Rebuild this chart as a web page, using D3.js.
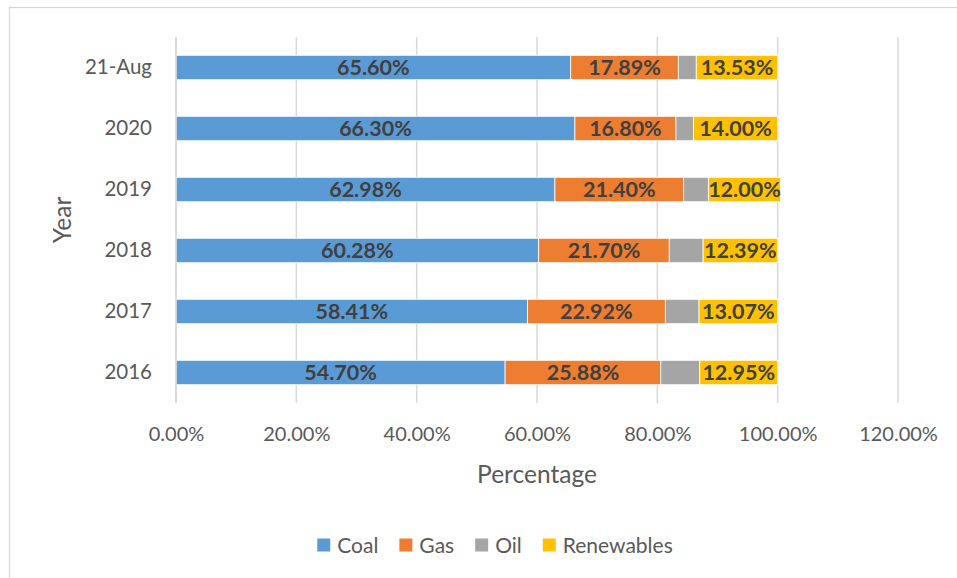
<!DOCTYPE html>
<html>
<head>
<meta charset="utf-8">
<script src="https://cdn.jsdelivr.net/npm/d3@7/dist/d3.min.js"></script>
<style>
  html, body { margin: 0; padding: 0; background: #ffffff; }
  svg { display: block; }
  text { font-family: Lato, "Open Sans", sans-serif; }
</style>
</head>
<body>
<svg id="chart" width="957" height="578"></svg>
<script>
// Generation mix by year (share of total, %)
const years = ["2016", "2017", "2018", "2019", "2020", "21-Aug"];
const coal = [54.70, 58.41, 60.28, 62.98, 66.30, 65.60];
const gas = [25.88, 22.92, 21.70, 21.40, 16.80, 17.89];
const oil = [6.47, 5.60, 5.63, 4.10, 2.90, 2.98];
const renewables = [12.95, 13.07, 12.39, 12.00, 14.00, 13.53];

const seriesNames = ["Coal", "Gas", "Oil", "Renewables"];
const seriesColors = ["#5B9BD5", "#ED7D31", "#A5A5A5", "#FFC000"];
const xTicks = [0, 20, 40, 60, 80, 100, 120];
const labelledSeries = ["Coal", "Gas", "Renewables"];

const rows = years.map((y, i) => ({
  year: y, Coal: coal[i], Gas: gas[i], Oil: oil[i], Renewables: renewables[i]
}));

const svg = d3.select("#chart");
const W = 957, H = 578;
const plot = { left: 176, right: 898, top: 37, bottom: 403 };

// Outer chart frame
svg.append("rect")
  .attr("x", 9.5).attr("y", 7.5)
  .attr("width", W).attr("height", H)
  .attr("fill", "#ffffff")
  .attr("stroke", "#d9d9d9").attr("stroke-width", 1.3);

const x = d3.scaleLinear().domain([0, 120]).range([plot.left, plot.right]);
const y = d3.scaleBand()
  .domain(years.slice().reverse())
  .range([plot.top, plot.bottom])
  .paddingInner(0.6).paddingOuter(0.3);

// Vertical gridlines
svg.append("g")
  .selectAll("line")
  .data(xTicks)
  .join("line")
  .attr("x1", d => x(d)).attr("x2", d => x(d))
  .attr("y1", plot.top).attr("y2", plot.bottom)
  .attr("stroke", "#d9d9d9").attr("stroke-width", 1.5);

// X axis tick labels
const xAxis = d3.axisBottom(x)
  .tickValues(xTicks)
  .tickFormat(d => d.toFixed(2) + "%")
  .tickSize(0).tickPadding(0);
const gx = svg.append("g")
  .attr("transform", `translate(0,${plot.bottom + 24})`)
  .call(xAxis);
gx.select(".domain").remove();
gx.selectAll("text")
  .attr("fill", "#595959")
  .attr("font-size", 20)
  .attr("dy", "0.71em");

// Y axis category labels
const yAxis = d3.axisLeft(y).tickSize(0).tickPadding(24);
const gy = svg.append("g")
  .attr("transform", `translate(${plot.left},0)`)
  .call(yAxis);
gy.select(".domain").remove();
gy.selectAll("text")
  .attr("fill", "#595959")
  .attr("font-size", 20.5);

// Stacked bars
const stack = d3.stack().keys(seriesNames);
const stacked = stack(rows);
const color = d3.scaleOrdinal().domain(seriesNames).range(seriesColors);

const layers = svg.append("g")
  .selectAll("g")
  .data(stacked)
  .join("g")
  .attr("fill", d => color(d.key));

layers.selectAll("rect")
  .data(d => d)
  .join("rect")
  .attr("x", d => x(d[0]))
  .attr("y", d => y(d.data.year))
  .attr("width", d => x(d[1]) - x(d[0]))
  .attr("height", y.bandwidth())
  .attr("stroke", "#ffffff")
  .attr("stroke-width", 0.8);

// Data labels
const labels = svg.append("g");
stacked.filter(s => labelledSeries.includes(s.key)).forEach(s => {
  labels.selectAll(null)
    .data(s)
    .join("text")
    .attr("x", d => (x(d[0]) + x(d[1])) / 2)
    .attr("y", d => y(d.data.year) + y.bandwidth() / 2)
    .attr("dy", "0.36em")
    .attr("text-anchor", "middle")
    .attr("font-size", 21.5)
    .attr("font-weight", "bold")
    .attr("fill", "#404040")
    .text(d => (d[1] - d[0]).toFixed(2) + "%");
});

// Vertical category axis line
svg.append("line")
  .attr("x1", plot.left).attr("x2", plot.left)
  .attr("y1", plot.top).attr("y2", plot.bottom)
  .attr("stroke", "#d9d9d9").attr("stroke-width", 1.5);

// Axis titles
svg.append("text")
  .attr("x", (plot.left + plot.right) / 2)
  .attr("y", 474)
  .attr("dy", "0.36em")
  .attr("text-anchor", "middle")
  .attr("font-size", 24.5)
  .attr("fill", "#595959")
  .text("Percentage");

svg.append("text")
  .attr("transform", `translate(62,${(plot.top + plot.bottom) / 2}) rotate(-90)`)
  .attr("dy", "0.36em")
  .attr("text-anchor", "middle")
  .attr("font-size", 24.5)
  .attr("fill", "#595959")
  .text("Year");

// Legend
const legend = svg.append("g");
const items = legend.selectAll("g")
  .data(seriesNames)
  .join("g");
items.append("rect")
  .attr("width", 13).attr("height", 13)
  .attr("y", -6.5)
  .attr("fill", d => color(d));
items.append("text")
  .attr("x", 20)
  .attr("dy", "0.36em")
  .attr("font-size", 21)
  .attr("fill", "#595959")
  .text(d => d);

let cursor = 0;
items.each(function () {
  const g = d3.select(this);
  g.attr("transform", `translate(${cursor},0)`);
  cursor += 20 + g.select("text").node().getComputedTextLength() + 21;
});
const legendWidth = cursor - 21;
legend.attr("transform", `translate(${495 - legendWidth / 2},545)`);
</script>
</body>
</html>
